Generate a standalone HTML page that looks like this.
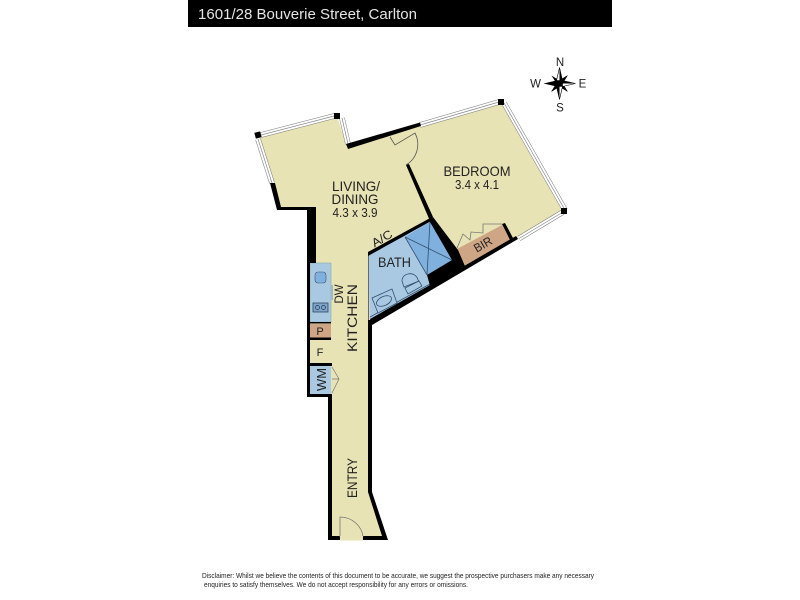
<!DOCTYPE html>
<html><head><meta charset="utf-8"><style>
html,body{margin:0;padding:0;background:#fff;width:800px;height:600px;overflow:hidden}
svg{display:block}
text{font-family:"Liberation Sans",sans-serif;fill:#222}
</style></head><body>
<svg width="800" height="600" viewBox="0 0 800 600" xmlns="http://www.w3.org/2000/svg">
<rect x="188" y="0" width="424" height="27" fill="#000"/>
<text x="198" y="19" font-size="15" style="fill:#e4e4e4" textLength="219" lengthAdjust="spacingAndGlyphs">1601/28 Bouverie Street, Carlton</text>

<!-- floor -->
<polygon points="260,136 337,116 347,147 420,125 501,103 563,212 518,239 370,323 370,492 386,537 329,537 329,397 307,397 307,210 278,208 272,183" fill="#e8e3b4"/>

<!-- bath -->
<polygon points="368,253 432,220 452,260 427,275 430,286 370,322" fill="#a9c9e3"/>
<polygon points="405,237 430,222 452,260 427,275" fill="#7fb0de"/>
<g stroke="#33506e" stroke-width="0.8" fill="none">
<line x1="405" y1="237" x2="452" y2="260"/>
<line x1="405" y1="237" x2="427" y2="275"/>
<line x1="430" y1="222" x2="427" y2="275"/>
<line x1="370" y1="317" x2="430" y2="284"/>
<polygon points="372,298 392,289 397,303 378,313" fill="#a9c9e3"/>
<ellipse cx="384" cy="301" rx="8" ry="4.500" transform="rotate(-25 384 301)"/>
<path d="M404 287 l-2 -6 a7 7 0 0 1 6 -7 a8 8 0 0 1 10 6 l1 1 z" fill="#a9c9e3"/>
<path d="M405 288 l14 -7 l3 5 l-14 8 z" fill="#a9c9e3"/>
</g>
<line x1="368.500" y1="253" x2="368.500" y2="322" stroke="#667" stroke-width="1"/>

<!-- BIR -->
<polygon points="457,249 502,225 510,240 465,265" fill="#cea585"/>
<path d="M457 248 L463 234 L470 240 L471 232 L483 233 L483 224 L502 224" fill="none" stroke="#777" stroke-width="0.8"/>

<!-- kitchen units -->
<rect x="310" y="263" width="21" height="59" fill="#a9c9e3" stroke="#8aa" stroke-width="0.6"/>
<rect x="331" y="285" width="2" height="15" fill="#9fb7c9"/>
<rect x="315" y="272" width="11" height="11" rx="3" fill="#7fb0de" stroke="#456" stroke-width="0.6"/>
<rect x="313" y="303" width="15" height="9" fill="#7fa5cc" stroke="#345" stroke-width="0.8"/>
<circle cx="317.500" cy="307.500" r="2" fill="none" stroke="#234" stroke-width="0.7"/>
<circle cx="323.500" cy="307.500" r="2" fill="none" stroke="#234" stroke-width="0.7"/>
<rect x="310" y="324" width="21" height="14" fill="#cea585"/>
<rect x="310" y="340" width="21" height="24" fill="#e8e3b4"/>
<rect x="310" y="366" width="21" height="28" fill="#a9c9e3"/>
<path d="M332 367 L339 379 L332 393 M332 379 h7" fill="none" stroke="#777" stroke-width="0.7"/>

<!-- windows -->
<g stroke-linecap="butt">
<g stroke="#777" stroke-width="5.500">
<line x1="261" y1="135" x2="336" y2="115.500"/>
<line x1="258" y1="139" x2="272" y2="183"/>
<line x1="342" y1="118" x2="348" y2="144"/>
<line x1="420" y1="125" x2="499" y2="102"/>
<line x1="504" y1="103" x2="565" y2="210"/>
<line x1="519" y1="238.500" x2="563" y2="212"/>
</g>
<g stroke="#fff" stroke-width="4.500">
<line x1="261" y1="135" x2="336" y2="115.500"/>
<line x1="258" y1="139" x2="272" y2="183"/>
<line x1="342" y1="118" x2="348" y2="144"/>
<line x1="420" y1="125" x2="499" y2="102"/>
<line x1="504" y1="103" x2="565" y2="210"/>
<line x1="519" y1="238.500" x2="563" y2="212"/>
</g>
<g stroke="#888" stroke-width="0.7">
<line x1="261" y1="135" x2="336" y2="115.500"/>
<line x1="258" y1="139" x2="272" y2="183"/>
<line x1="342" y1="118" x2="348" y2="144"/>
<line x1="420" y1="125" x2="499" y2="102"/>
<line x1="504" y1="103" x2="565" y2="210"/>
<line x1="519" y1="238.500" x2="563" y2="212"/>
</g>
</g>

<!-- walls -->
<g fill="#000">
<polygon points="270,183 275,183 281,207 316,207 316,263 310,263 310,394 332,394 332,536 340,536 340,540 328,540 328,397 307,397 307,210 277,210"/>
<polygon points="346,144 420,122.500 421,126 348,149"/>
<polygon points="406,165 409,164 433,217 430,221"/>
<polygon points="368,252 432,217 433,220 368,256"/>
<polygon points="427,275 452,260 430,222 433,217 458,250 465,266 431,288 430,286"/>
<polygon points="370,319 430,285 464,266 516,236 518,239 372,325"/>
<polygon points="368,320 372,320 372,492 388,540 363,540 363,536 382,536 368,492"/>
<polygon points="502,224 505,223 513,238 510,240"/>
<rect x="310" y="363" width="22" height="3"/>
<rect x="310" y="322" width="21" height="1.500"/>
<rect x="310" y="337.500" width="21" height="2.500"/>
<rect x="255" y="132" width="6" height="6" transform="rotate(-15 258 135)"/>
<rect x="334" y="113" width="6" height="6"/>
<rect x="498" y="99" width="6" height="6"/>
<rect x="561" y="208" width="6" height="6"/>
</g>

<!-- doors -->
<path d="M390 137 L395 145 L415 133 A24 24 0 0 1 406 165" fill="none" stroke="#555" stroke-width="0.8"/>
<path d="M340 537 V517 C352 517 362 526 363 537" fill="none" stroke="#777" stroke-width="0.8"/>
<rect x="340" y="536" width="23" height="4.500" fill="#e8e3b4"/>

<!-- labels -->
<g text-anchor="middle">
<text x="356" y="191" font-size="14" textLength="48" lengthAdjust="spacingAndGlyphs">LIVING/</text>
<text x="355" y="204" font-size="14" textLength="47" lengthAdjust="spacingAndGlyphs">DINING</text>
<text x="355" y="217" font-size="12.500" textLength="45" lengthAdjust="spacingAndGlyphs">4.3 x 3.9</text>
<text x="477" y="176" font-size="14" textLength="67" lengthAdjust="spacingAndGlyphs">BEDROOM</text>
<text x="477" y="189" font-size="12.500" textLength="44" lengthAdjust="spacingAndGlyphs">3.4 x 4.1</text>
<text x="394.500" y="267" font-size="14" textLength="33" lengthAdjust="spacingAndGlyphs">BATH</text>
<text transform="translate(384 242) rotate(-30)" font-size="12" textLength="22" lengthAdjust="spacingAndGlyphs">A/C</text>
<text transform="translate(485 248) rotate(-30)" font-size="12" textLength="19" lengthAdjust="spacingAndGlyphs">BIR</text>
<text transform="translate(343 294) rotate(-90)" font-size="11.500" textLength="19" lengthAdjust="spacingAndGlyphs">DW</text>
<text transform="translate(357 318) rotate(-90)" font-size="14" textLength="68" lengthAdjust="spacingAndGlyphs">KITCHEN</text>
<text transform="translate(357 478) rotate(-90)" font-size="14" textLength="40" lengthAdjust="spacingAndGlyphs">ENTRY</text>
<text transform="translate(326 379.500) rotate(-90)" font-size="13" textLength="23" lengthAdjust="spacingAndGlyphs">WM</text>
<text x="320" y="335" font-size="11">P</text>
<text x="320" y="356" font-size="11">F</text>
</g>

<!-- compass -->
<g transform="translate(559.500 83.500)">
<polygon points="-8,-8 0,-3 3,0 0,3 -3,0" fill="#000"/>
<polygon points="8,-8 3,0 0,-3" fill="#000" stroke="#000" stroke-width="0.5"/>
<polygon points="-8,8 -3,0 0,3" fill="#000" stroke="#000" stroke-width="0.5"/>
<polygon points="8,8 0,3 3,0" fill="#000" stroke="#000" stroke-width="0.5"/>
<polygon points="0,-16 3,-3 -3,-3" fill="#fff" stroke="#000" stroke-width="0.6"/>
<polygon points="0,-16 3,-3 0,0" fill="#000"/>
<polygon points="0,16 3,3 -3,3" fill="#fff" stroke="#000" stroke-width="0.6"/>
<polygon points="0,16 -3,3 0,0" fill="#000"/>
<polygon points="-16,0 -3,-3 -3,3" fill="#000"/>
<polygon points="16,0 3,-3 3,3" fill="#fff" stroke="#000" stroke-width="0.6"/>
<polygon points="16,0 3,-3 0,0" fill="#000"/>
</g>
<g text-anchor="middle" font-size="11.500">
<text x="560" y="66">N</text>
<text x="560" y="111.500">S</text>
<text x="535.500" y="87.500">W</text>
<text x="582.500" y="87.500">E</text>
</g>

<!-- disclaimer -->
<text x="202" y="578" font-size="7.300" textLength="392" lengthAdjust="spacingAndGlyphs">Disclaimer: Whilst we believe the contents of this document to be accurate, we suggest the prospective purchasers make any necessary</text>
<text x="204" y="587" font-size="7.300" textLength="264" lengthAdjust="spacingAndGlyphs">enquiries to satisfy themselves. We do not accept responsibility for any errors or omissions.</text>
</svg>
</body></html>
